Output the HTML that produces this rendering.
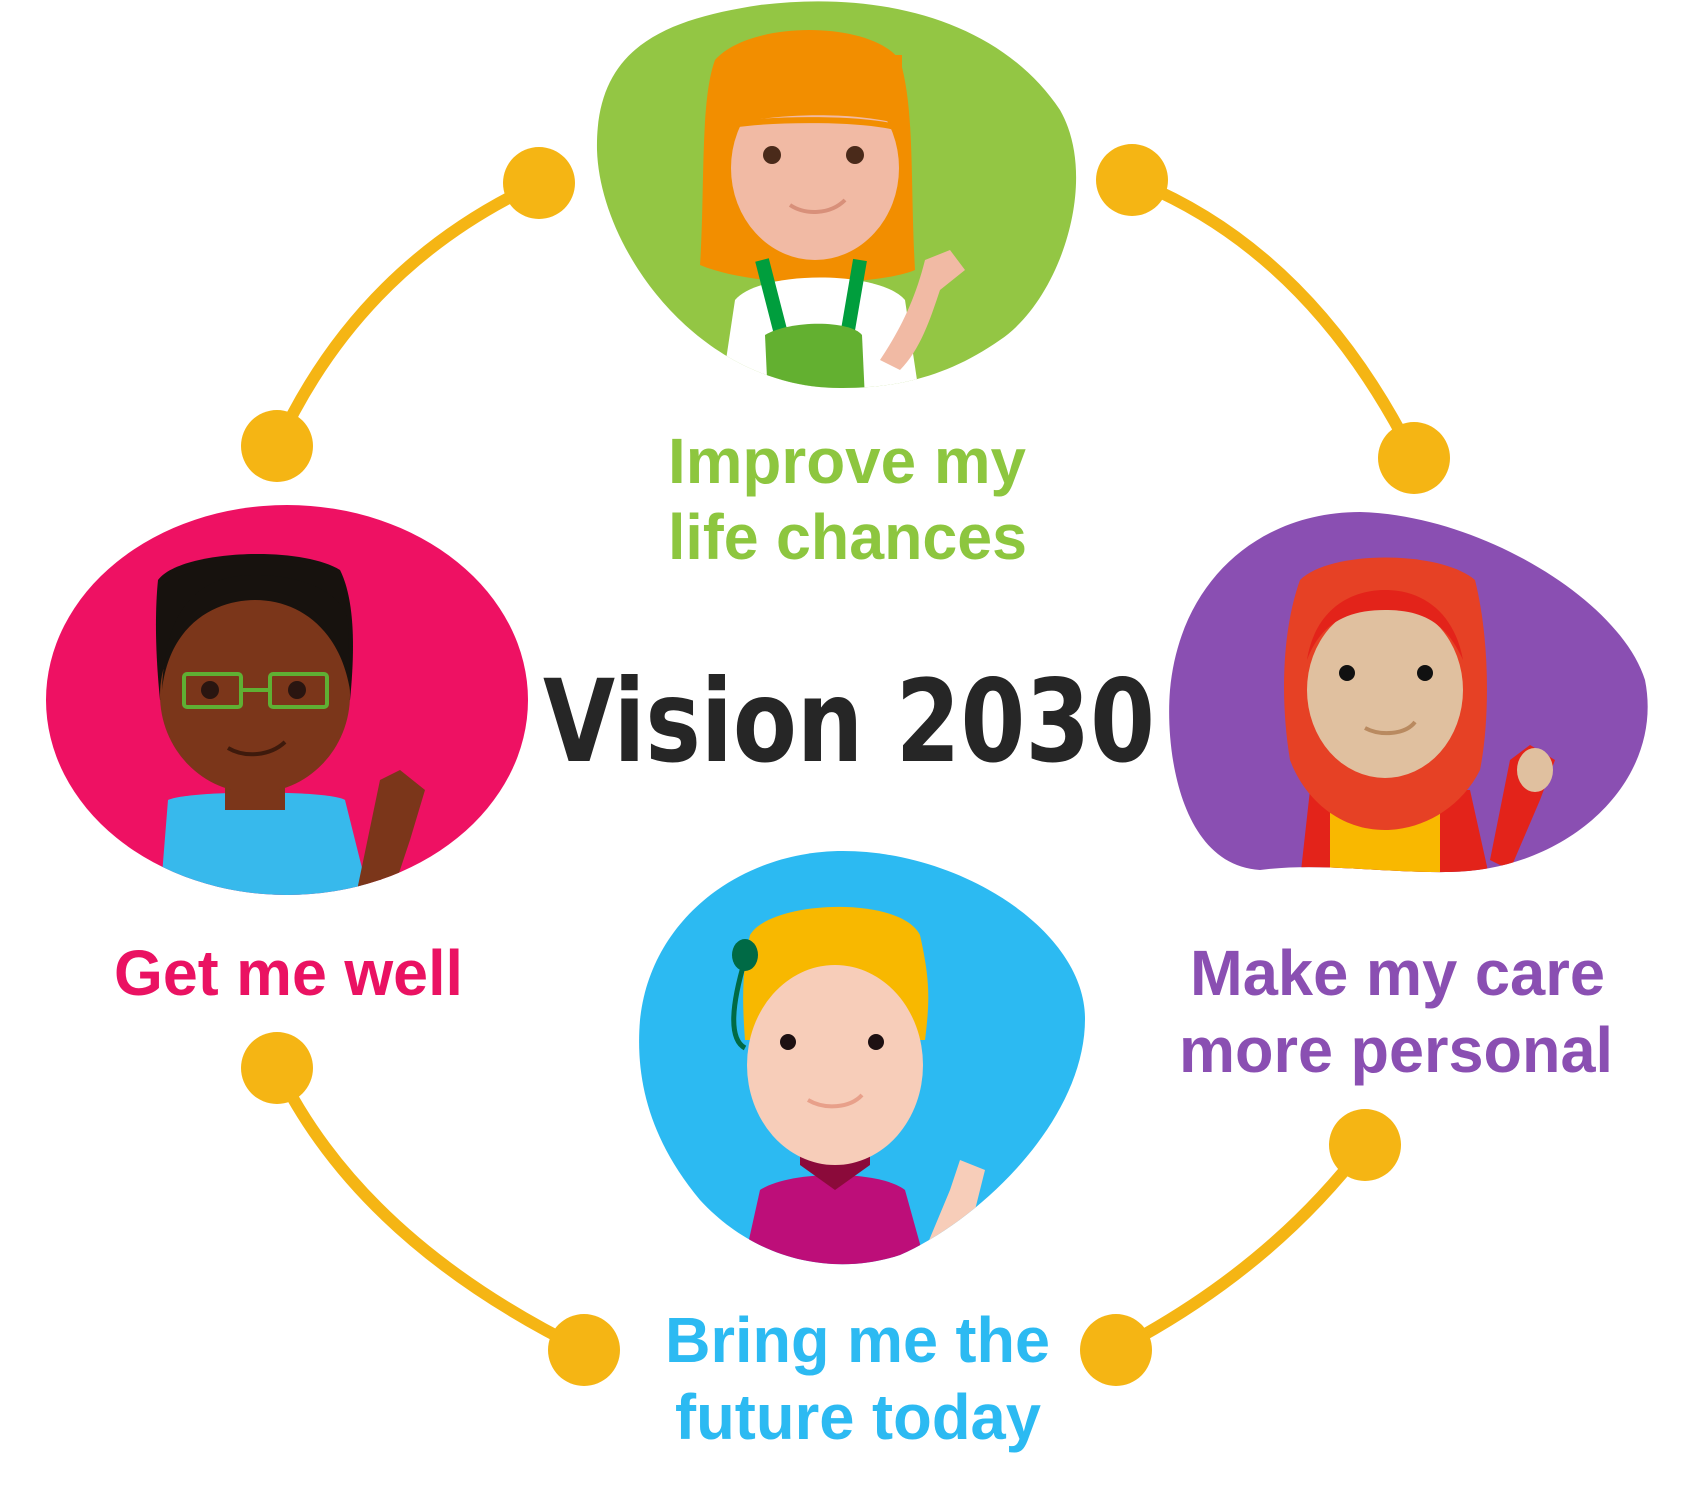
<!DOCTYPE html>
<html><head><meta charset="utf-8"><style>
html,body{margin:0;padding:0;background:#fff;}
svg{display:block;}
text{font-family:"Liberation Sans",Arial,sans-serif;font-weight:bold;}
</style></head><body>
<svg width="1686" height="1498" viewBox="0 0 1686 1498" xmlns="http://www.w3.org/2000/svg">
<defs>
<clipPath id="cg"><path d="M843 388 C700 390 600 250 597 150 C595 50 660 20 760 5 C880 -10 1000 20 1060 110 C1100 180 1060 300 1000 340 C950 375 900 388 843 388 Z"/></clipPath>
<clipPath id="cp"><ellipse cx="287" cy="700" rx="241" ry="195"/></clipPath>
<clipPath id="cu"><path d="M1360 512 C1480 515 1620 600 1645 680 C1665 780 1570 870 1450 872 C1380 873 1320 862 1260 870 C1180 865 1165 750 1170 690 C1180 580 1260 512 1360 512 Z"/></clipPath>
<clipPath id="cb"><path d="M843 851 C960 851 1085 930 1085 1019 C1085 1120 980 1220 900 1255 C840 1275 760 1265 700 1200 C650 1140 635 1080 640 1020 C650 920 740 851 843 851 Z"/></clipPath>
</defs>

<g fill="none" stroke="#f5b514" stroke-width="12" stroke-linecap="round">
<path d="M539 183 Q360 265 277 446"/>
<path d="M1132 180 Q1310 250 1414 458"/>
<path d="M277 1068 Q360 1240 584 1350"/>
<path d="M1116 1350 Q1270 1270 1365 1145"/>
</g>
<g fill="#f5b514">
<circle cx="539" cy="183" r="36"/><circle cx="277" cy="446" r="36"/>
<circle cx="1132" cy="180" r="36"/><circle cx="1414" cy="458" r="36"/>
<circle cx="277" cy="1068" r="36"/><circle cx="584" cy="1350" r="36"/>
<circle cx="1116" cy="1350" r="36"/><circle cx="1365" cy="1145" r="36"/>
</g>

<path d="M843 388 C700 390 600 250 597 150 C595 50 660 20 760 5 C880 -10 1000 20 1060 110 C1100 180 1060 300 1000 340 C950 375 900 388 843 388 Z" fill="#93c644"/>
<g clip-path="url(#cg)">
<path d="M715 60 C750 20 870 20 900 60 C915 110 910 180 915 270 C880 285 760 290 700 265 C705 190 700 100 715 60 Z" fill="#f28e00"/>
<path d="M735 300 C760 270 880 270 905 300 L920 400 L720 400 Z" fill="#fff"/>
<path d="M762 260 L780 330 M860 260 L848 330" stroke="#009e3d" stroke-width="14"/>
<path d="M765 335 C790 320 850 320 862 335 L865 400 L768 400 Z" fill="#63b030"/>
<ellipse cx="815" cy="168" rx="84" ry="92" fill="#f1baa4"/>
<path d="M728 125 C780 112 860 112 902 125 L902 55 L728 55 Z" fill="#f28e00"/>
<path d="M730 125 C780 118 860 118 900 128" stroke="#f28e00" stroke-width="6" fill="none"/>
<circle cx="772" cy="155" r="9" fill="#4a2a1a"/><circle cx="855" cy="155" r="9" fill="#4a2a1a"/>
<path d="M790 205 C805 215 830 215 845 200" stroke="#d8907a" stroke-width="4" fill="none"/>
<path d="M925 260 L950 250 L965 270 L940 290 C930 320 920 350 900 370 L880 360 C900 330 915 300 925 260 Z" fill="#f1baa4"/>
</g>

<ellipse cx="287" cy="700" rx="241" ry="195" fill="#ee1163"/>
<g clip-path="url(#cp)">
<path d="M168 800 C190 790 330 790 345 800 L370 900 L160 900 Z" fill="#37b9ec"/>
<rect x="225" y="770" width="60" height="40" fill="#7b361a"/>
<path d="M158 580 C180 550 300 545 340 570 C355 600 355 650 350 700 L160 700 C155 650 155 610 158 580 Z" fill="#17120e"/>
<ellipse cx="255" cy="695" rx="95" ry="98" fill="#7b361a"/>
<path d="M162 690 C170 620 220 600 255 600 C300 600 340 630 350 690 L348 620 C340 590 300 575 255 575 C210 575 165 595 162 690 Z" fill="#17120e"/>
<rect x="184" y="674" width="57" height="33" rx="3" fill="none" stroke="#5fb033" stroke-width="4"/>
<rect x="270" y="674" width="57" height="33" rx="3" fill="none" stroke="#5fb033" stroke-width="4"/>
<line x1="241" y1="690" x2="270" y2="690" stroke="#5fb033" stroke-width="4"/>
<circle cx="210" cy="690" r="9" fill="#2a1510"/><circle cx="297" cy="690" r="9" fill="#2a1510"/>
<path d="M228 748 C245 758 270 756 285 742" stroke="#3e1a0c" stroke-width="4" fill="none"/>
<path d="M380 780 L400 770 L425 790 L410 840 L390 900 L355 900 Z" fill="#7b361a"/>
</g>

<path d="M1360 512 C1480 515 1620 600 1645 680 C1665 780 1570 870 1450 872 C1380 873 1320 862 1260 870 C1180 865 1165 750 1170 690 C1180 580 1260 512 1360 512 Z" fill="#8a4fb2"/>
<g clip-path="url(#cu)">
<path d="M1310 790 L1470 790 L1490 880 L1300 880 Z" fill="#e3231a"/>
<rect x="1330" y="800" width="110" height="80" fill="#f9b800"/>
<path d="M1300 580 C1330 550 1440 550 1475 580 C1490 640 1490 720 1480 770 C1460 810 1420 830 1385 830 C1340 830 1305 800 1290 760 C1280 700 1282 630 1300 580 Z" fill="#e64125"/>
<ellipse cx="1385" cy="690" rx="78" ry="88" fill="#e0c09f"/>
<path d="M1307 660 C1315 610 1350 590 1385 590 C1425 590 1455 615 1463 660 C1445 620 1420 610 1385 610 C1345 610 1320 625 1307 660 Z" fill="#e3231a"/>
<circle cx="1347" cy="673" r="8" fill="#111"/><circle cx="1425" cy="673" r="8" fill="#111"/>
<path d="M1365 728 C1380 736 1405 735 1415 722" stroke="#b98a60" stroke-width="4" fill="none"/>
<path d="M1510 760 L1530 745 L1555 760 L1540 800 L1510 870 L1490 860 Z" fill="#e3231a"/>
<ellipse cx="1535" cy="770" rx="18" ry="22" fill="#e0c09f"/>
</g>

<path d="M843 851 C960 851 1085 930 1085 1019 C1085 1120 980 1220 900 1255 C840 1275 760 1265 700 1200 C650 1140 635 1080 640 1020 C650 920 740 851 843 851 Z" fill="#2cbaf2"/>
<g clip-path="url(#cb)">
<path d="M760 1190 C790 1170 880 1170 905 1190 L930 1280 L740 1280 Z" fill="#bd0e79"/>
<path d="M800 1165 L835 1190 L870 1165 L870 1150 L800 1150 Z" fill="#8b0a3a"/>
<path d="M750 935 C770 900 900 895 920 935 C930 980 930 1000 925 1040 L745 1040 C742 1000 742 970 750 935 Z" fill="#f8b800"/>
<ellipse cx="835" cy="1065" rx="88" ry="100" fill="#f7cdb9"/>
<path d="M748 1000 C760 950 900 945 922 995 L922 955 C900 915 770 915 750 955 Z" fill="#f8b800"/>
<circle cx="788" cy="1042" r="8" fill="#1d1012"/><circle cx="876" cy="1042" r="8" fill="#1d1012"/>
<path d="M808 1100 C825 1110 850 1108 862 1095" stroke="#e8a08a" stroke-width="4" fill="none"/>
<path d="M745 960 C730 1010 730 1040 745 1048" stroke="#006a45" stroke-width="5" fill="none"/>
<ellipse cx="745" cy="955" rx="13" ry="16" fill="#006a45"/>
<path d="M950 1190 L960 1160 L985 1170 L975 1210 L945 1260 L925 1250 Z" fill="#f7cdb9"/>
</g>

<text x="668" y="483" font-size="64" fill="#8dc63f" textLength="358" lengthAdjust="spacingAndGlyphs">Improve my</text>
<text x="668" y="559" font-size="64" fill="#8dc63f" textLength="359" lengthAdjust="spacingAndGlyphs">life chances</text>
<text x="543" y="761" font-size="114" fill="#262626" style="font-family:'DejaVu Sans','Liberation Sans',sans-serif" textLength="612" lengthAdjust="spacingAndGlyphs">Vision 2030</text>
<text x="114" y="995" font-size="64" fill="#ea1262" textLength="349" lengthAdjust="spacingAndGlyphs">Get me well</text>
<text x="1190" y="995" font-size="64" fill="#8a4fb2" textLength="415" lengthAdjust="spacingAndGlyphs">Make my care</text>
<text x="1179" y="1072" font-size="64" fill="#8a4fb2" textLength="434" lengthAdjust="spacingAndGlyphs">more personal</text>
<text x="665" y="1362" font-size="64" fill="#2cbaf2" textLength="385" lengthAdjust="spacingAndGlyphs">Bring me the</text>
<text x="675" y="1439" font-size="64" fill="#2cbaf2" textLength="366" lengthAdjust="spacingAndGlyphs">future today</text>
</svg>
</body></html>
